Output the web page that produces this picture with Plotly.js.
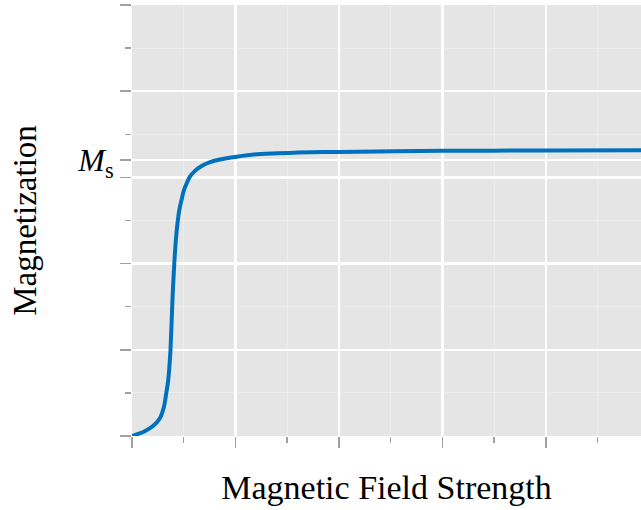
<!DOCTYPE html>
<html>
<head>
<meta charset="utf-8">
<script src="https://cdn.plot.ly/plotly-3.0.1.min.js"></script>
<style>html,body{margin:0;padding:0;background:#fff;}#chart{width:641px;height:510px;}</style>
</head>
<body>
<div id="chart"></div>
<script>
// Magnetization curve (arbitrary units)
var fieldStrength = [0, 0.06, 0.123, 0.203, 0.268, 0.309, 0.331, 0.350, 0.359, 0.372, 0.391, 0.409, 0.430, 0.457, 0.480, 0.502, 0.529, 0.560, 0.609, 0.673, 0.754, 0.850, 1.012, 1.237, 1.6, 2.01, 3.005, 4.0, 4.92];
var magnetization = [0, 0.006, 0.014, 0.029, 0.051, 0.085, 0.124, 0.162, 0.191, 0.249, 0.394, 0.502, 0.589, 0.655, 0.686, 0.713, 0.733, 0.752, 0.769, 0.783, 0.794, 0.802, 0.810, 0.818, 0.822, 0.824, 0.827, 0.828, 0.829];

var yMajorTicks = [0, 0.25, 0.5, 0.75, 0.8, 1.0, 1.25];
var yMajorLabels = ["", "", "", "", "<i>M</i><sub>s</sub>", "", ""];
var yMinorTicks = [0.125, 0.375, 0.625, 0.875, 1.125];
var xMajorTicks = [0, 1, 2, 3, 4, 5];
var xMinorTicks = [0.5, 1.5, 2.5, 3.5, 4.5];

var serif = "Liberation Serif, Times New Roman, serif";

var trace = {
  x: fieldStrength,
  y: magnetization,
  type: "scatter",
  mode: "lines",
  line: {color: "#0072bd", width: 4, shape: "spline", smoothing: 0.8},
  hoverinfo: "skip"
};

var layout = {
  width: 641,
  height: 510,
  margin: {l: 132, r: 0, t: 5, b: 74},
  paper_bgcolor: "#ffffff",
  plot_bgcolor: "#e5e5e5",
  showlegend: false,
  font: {family: serif, color: "#000000"},
  xaxis: {
    range: [0, 4.92],
    tickmode: "array",
    tickvals: xMajorTicks,
    showticklabels: false,
    ticks: "outside",
    ticklen: 11,
    tickwidth: 1.5,
    tickcolor: "#a0a0a0",
    showgrid: true,
    gridcolor: "#ffffff",
    gridwidth: 2.5,
    zeroline: false,
    showline: false,
    minor: {
      tickmode: "array",
      tickvals: xMinorTicks,
      ticks: "outside",
      ticklen: 6,
      tickwidth: 1.5,
      tickcolor: "#a0a0a0",
      showgrid: true,
      gridcolor: "#ededed",
      gridwidth: 1
    },
    title: {text: "Magnetic Field Strength", font: {family: serif, size: 34, color: "#000"}, standoff: 28}
  },
  yaxis: {
    range: [0, 1.25],
    tickmode: "array",
    tickvals: yMajorTicks,
    ticktext: yMajorLabels,
    tickfont: {family: serif, size: 32, color: "#000"},
    ticks: "outside",
    ticklen: 11,
    tickwidth: 1.5,
    tickcolor: "#a0a0a0",
    showgrid: true,
    gridcolor: "#ffffff",
    gridwidth: 2.5,
    zeroline: false,
    showline: false,
    minor: {
      tickmode: "array",
      tickvals: yMinorTicks,
      ticks: "outside",
      ticklen: 6,
      tickwidth: 1.5,
      tickcolor: "#a0a0a0",
      showgrid: true,
      gridcolor: "#ededed",
      gridwidth: 1
    },
    title: {text: "Magnetization", font: {family: serif, size: 33, color: "#000"}, standoff: 30}
  }
};

Plotly.newPlot("chart", [trace], layout, {displayModeBar: false, staticPlot: true});
</script>
</body>
</html>
